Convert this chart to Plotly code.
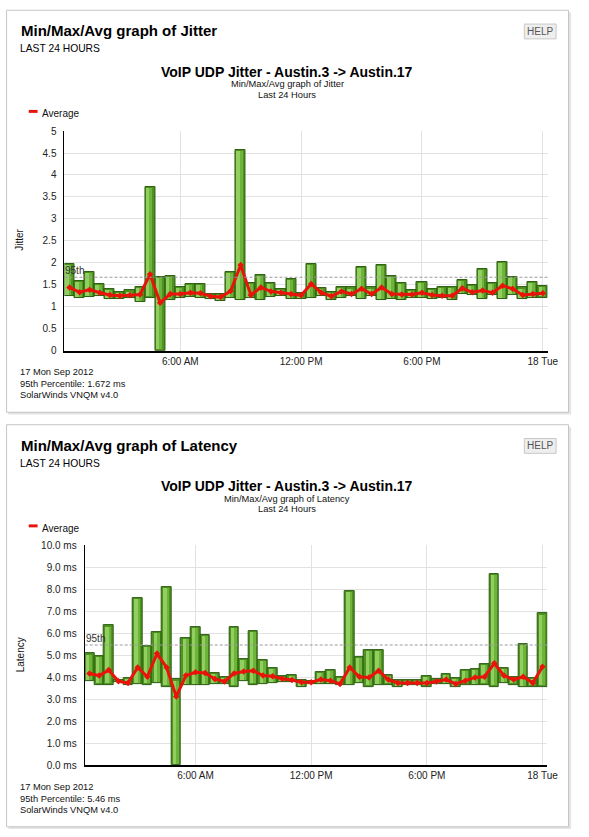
import plotly.graph_objects as go
import pandas as pd

W, H = 589, 837
FONT = "Arial, 'Liberation Sans', sans-serif"

# ---------------- data ----------------
times = pd.date_range("2012-09-17 00:30", periods=48, freq="30min")
x_tick_vals = ["2012-09-17 06:00", "2012-09-17 12:00", "2012-09-17 18:00", "2012-09-18 00:00"]
x_tick_labels = ["6:00 AM", "12:00 PM", "6:00 PM", "18 Tue"]
x_range = ["2012-09-17 00:15", "2012-09-18 00:15"]

jitter_min = [1.235, 1.20, 1.22, 1.235, 1.17, 1.17, 1.21, 1.11, 1.21, 0.0,
              1.15, 1.20, 1.22, 1.20, 1.17, 1.12, 1.20, 1.15, 1.20, 1.15,
              1.22, 1.235, 1.17, 1.17, 1.20, 1.235, 1.15, 1.20, 1.235, 1.17,
              1.235, 1.15, 1.17, 1.15, 1.20, 1.20, 1.17, 1.20, 1.15, 1.29,
              1.26, 1.17, 1.27, 1.17, 1.27, 1.17, 1.20, 1.21]
jitter_max = [1.98, 1.59, 1.80, 1.52, 1.41, 1.34, 1.37, 1.46, 3.73, 1.67,
              1.71, 1.46, 1.52, 1.52, 1.30, 1.29, 1.80, 4.57, 1.54, 1.72,
              1.54, 1.41, 1.63, 1.31, 1.97, 1.42, 1.33, 1.46, 1.44, 1.91,
              1.44, 1.95, 1.71, 1.54, 1.38, 1.57, 1.41, 1.46, 1.46, 1.62,
              1.50, 1.87, 1.54, 2.02, 1.68, 1.44, 1.57, 1.48]
jitter_avg = [1.44, 1.33, 1.39, 1.32, 1.27, 1.25, 1.26, 1.28, 1.74, 1.09,
              1.29, 1.29, 1.32, 1.31, 1.24, 1.22, 1.36, 1.95, 1.27, 1.44,
              1.35, 1.32, 1.29, 1.26, 1.52, 1.32, 1.24, 1.35, 1.29, 1.41,
              1.29, 1.44, 1.29, 1.28, 1.28, 1.32, 1.27, 1.25, 1.25, 1.42,
              1.33, 1.37, 1.32, 1.48, 1.41, 1.27, 1.29, 1.31]
jitter_p95 = 1.672

latency_min = [3.81, 3.66, 3.66, 3.77, 3.66, 3.69, 3.66, 3.72, 3.57, 0.0,
               3.62, 3.62, 3.62, 3.69, 3.69, 3.57, 3.80, 3.66, 3.69, 3.74,
               3.77, 3.77, 3.54, 3.69, 3.69, 3.69, 3.62, 3.62, 3.72, 3.57,
               3.62, 3.66, 3.54, 3.62, 3.62, 3.57, 3.69, 3.69, 3.54, 3.66,
               3.62, 3.66, 3.57, 3.72, 3.66, 3.54, 3.57, 3.57]
latency_max = [5.07, 4.96, 6.35, 3.87, 3.96, 7.61, 5.41, 6.04, 8.10, 3.89,
               5.78, 6.26, 5.90, 4.17, 4.02, 6.26, 4.83, 6.11, 4.78, 4.42,
               4.07, 4.11, 3.87, 3.84, 4.25, 4.33, 3.99, 7.92, 4.92, 5.22,
               5.22, 4.10, 3.87, 3.87, 3.87, 4.05, 3.89, 4.14, 3.96, 4.32,
               4.36, 4.59, 8.67, 4.41, 3.99, 5.49, 3.96, 6.89]
latency_avg = [4.17, 4.07, 4.32, 3.81, 3.74, 4.44, 4.02, 5.07, 4.44, 3.12,
               4.07, 4.22, 4.19, 3.92, 3.80, 4.17, 4.26, 4.29, 4.07, 4.04,
               3.93, 3.87, 3.77, 3.77, 3.89, 3.84, 3.69, 4.44, 4.02, 3.99,
               4.29, 3.89, 3.74, 3.74, 3.74, 3.74, 3.80, 3.89, 3.69, 3.84,
               3.99, 4.02, 4.63, 4.07, 3.89, 4.02, 3.74, 4.47]
latency_p95 = 5.46

# ---------------- helpers ----------------
def px(x):
    return x / W


def py(y):
    return 1 - y / H


BAR_MS = 30 * 60 * 1000
DARK = "#4f921f"
MID = "#6cb43a"
LIGHT = "#93cf60"
EDGE = "#2c5e12"
RED = "#e8140c"

fig = go.Figure()
shapes = []
ann = []


def add_chart(n, vmin, vmax, vavg, p95, xdom, ydom, yrange, dtick, ysuffix, yfmt, unit_px):
    xa = "x" if n == 1 else "x%d" % n
    ya = "y" if n == 1 else "y%d" % n
    span = [b - a for a, b in zip(vmin, vmax)]
    # main bar (darker tone, with edge)
    fig.add_trace(go.Bar(x=times, y=span, base=vmin, width=BAR_MS,
                         marker=dict(color=DARK, line=dict(color=EDGE, width=1)),
                         xaxis=xa, yaxis=ya, showlegend=False, name="Min/Max",
                         hoverinfo="skip"))
    # lighter tones toward the left of each bar (gradient look)
    eps = 1.2 / unit_px
    inner = [max(s - 2 * eps, 0) for s in span]
    inner_base = [a + eps for a in vmin]
    fig.add_trace(go.Bar(x=times, y=inner, base=inner_base, width=BAR_MS * 0.62,
                         offset=-BAR_MS * 0.5 + BAR_MS * 0.12,
                         marker=dict(color=MID, line=dict(width=0)),
                         xaxis=xa, yaxis=ya, showlegend=False, hoverinfo="skip"))
    fig.add_trace(go.Bar(x=times, y=inner, base=inner_base, width=BAR_MS * 0.34,
                         offset=-BAR_MS * 0.5 + BAR_MS * 0.12,
                         marker=dict(color=LIGHT, line=dict(width=0)),
                         xaxis=xa, yaxis=ya, showlegend=False, hoverinfo="skip"))
    fig.add_trace(go.Scatter(x=times, y=vavg, mode="lines+markers", name="Average",
                             line=dict(color=RED, width=3),
                             marker=dict(color=RED, size=5, symbol="diamond"),
                             xaxis=xa, yaxis=ya, showlegend=False))
    xkey = "xaxis" if n == 1 else "xaxis%d" % n
    ykey = "yaxis" if n == 1 else "yaxis%d" % n
    fig.update_layout(**{
        xkey: dict(type="date", domain=xdom, anchor=ya, range=x_range,
                   tickvals=x_tick_vals, ticktext=x_tick_labels,
                   showgrid=True, gridcolor="#e2e2e2", gridwidth=1,
                   showline=True, linecolor="#000", linewidth=2,
                   ticks="", tickfont=dict(size=10, color="#222", family=FONT),
                   zeroline=False, fixedrange=True),
        ykey: dict(domain=ydom, anchor=xa, range=yrange, dtick=dtick,
                   tickformat=yfmt, ticksuffix=ysuffix,
                   showgrid=True, gridcolor="#e2e2e2", gridwidth=1,
                   showline=True, linecolor="#000", linewidth=1,
                   ticks="", ticklabelstandoff=5,
                   tickfont=dict(size=10, color="#222", family=FONT),
                   zeroline=False, fixedrange=True),
    })
    shapes.append(dict(type="line", xref=xa + " domain", yref=ya, x0=0, x1=1,
                       y0=p95, y1=p95, line=dict(color="#9a9a9a", width=1, dash="3px,2px")))
    ann.append(dict(xref=xa + " domain", yref=ya, x=0, y=p95, text="95th",
                    showarrow=False, xanchor="left", yanchor="bottom",
                    font=dict(size=10, color="#333", family=FONT), xshift=-1, yshift=-1))


def add_panel(off, title, sub, ylabel, foot):
    # shadow + panel
    shapes.append(dict(type="rect", xref="paper", yref="paper",
                       x0=px(8.5), x1=px(582), y0=py(414 + off), y1=py(6.5 + off),
                       line=dict(width=0), fillcolor="#e4e4e4", layer="below"))
    shapes.append(dict(type="rect", xref="paper", yref="paper",
                       x0=px(6.7), x1=px(579.3), y0=py(411.7 + off), y1=py(4.3 + off),
                       line=dict(color="#c4c4c4", width=1), fillcolor="#ffffff", layer="below"))
    # HELP button
    shapes.append(dict(type="rect", xref="paper", yref="paper",
                       x0=px(534.3), x1=px(566.7), y0=py(33.3 + off), y1=py(18.3 + off),
                       line=dict(color="#c8c8c8", width=1), fillcolor="#eeeeee", layer="below"))
    ann.append(dict(xref="paper", yref="paper", x=px(550.5), y=py(25.8 + off), text="HELP",
                    showarrow=False, xanchor="center", yanchor="middle",
                    font=dict(size=10, color="#555", family=FONT)))
    # headers
    ann.append(dict(xref="paper", yref="paper", x=px(19.5), y=py(25 + off), text="<b>%s</b>" % title,
                    showarrow=False, xanchor="left", yanchor="middle",
                    font=dict(size=15, color="#000", family=FONT)))
    ann.append(dict(xref="paper", yref="paper", x=px(18.8), y=py(43.3 + off), text="LAST 24 HOURS",
                    showarrow=False, xanchor="left", yanchor="middle",
                    font=dict(size=10.3, color="#000", family=FONT)))
    ann.append(dict(xref="paper", yref="paper", x=px(292.3), y=py(66.7 + off),
                    text="<b>VoIP UDP Jitter - Austin.3 -> Austin.17</b>",
                    showarrow=False, xanchor="center", yanchor="middle",
                    font=dict(size=14, color="#000", family=FONT)))
    ann.append(dict(xref="paper", yref="paper", x=px(292.6), y=py(79.3 + off), text=sub,
                    showarrow=False, xanchor="center", yanchor="middle",
                    font=dict(size=9.3, color="#111", family=FONT)))
    ann.append(dict(xref="paper", yref="paper", x=px(292.6), y=py(90 + off), text="Last 24 Hours",
                    showarrow=False, xanchor="center", yanchor="middle",
                    font=dict(size=9.3, color="#111", family=FONT)))
    # legend
    shapes.append(dict(type="rect", xref="paper", yref="paper",
                       x0=px(29.3), x1=px(38.3), y0=py(108.3 + off), y1=py(105.3 + off),
                       line=dict(width=0), fillcolor=RED))
    ann.append(dict(xref="paper", yref="paper", x=px(41.2), y=py(109 + off), text="Average",
                    showarrow=False, xanchor="left", yanchor="middle",
                    font=dict(size=10, color="#111", family=FONT)))
    # y label
    ann.append(dict(xref="paper", yref="paper", x=px(20.3), y=py(237 + off), text=ylabel,
                    showarrow=False, xanchor="center", yanchor="middle", textangle=-90,
                    font=dict(size=10, color="#111", family=FONT)))
    # footer
    for i, t in enumerate(foot):
        ann.append(dict(xref="paper", yref="paper", x=px(18.8), y=py([371, 383.3, 394.3][i] + off),
                        text=t, showarrow=False, xanchor="left", yanchor="middle",
                        font=dict(size=9.3, color="#111", family=FONT)))


add_panel(0, "Min/Max/Avg graph of Jitter", "Min/Max/Avg graph of Jitter", "Jitter",
          ["17 Mon Sep 2012", "95th Percentile: %.3f ms" % jitter_p95, "SolarWinds VNQM v4.0"])
add_panel(420, "Min/Max/Avg graph of Latency", "Min/Max/Avg graph of Latency", "Latency",
          ["17 Mon Sep 2012", "95th Percentile: %.2f ms" % latency_p95, "SolarWinds VNQM v4.0"])

add_chart(1, jitter_min, jitter_max, jitter_avg, jitter_p95,
          [px(65.7), px(558.3)], [py(349.3), py(126.7)], [0, 5], 0.5, "", "", 44.5)
add_chart(2, latency_min, latency_max, latency_avg, latency_p95,
          [px(86.3), px(557.7)], [py(769.3), py(546.3)], [0, 10], 1, " ms", ".1f", 22.3)

fig.update_layout(width=W, height=H, margin=dict(l=0, r=0, t=0, b=0),
                  paper_bgcolor="#ffffff", plot_bgcolor="rgba(0,0,0,0)",
                  barmode="overlay", bargap=0,
                  font=dict(family=FONT, size=10, color="#222"),
                  shapes=shapes, annotations=ann, showlegend=False,
                  hovermode="closest")

fig.write_html("out.html", config={"displayModeBar": False})
